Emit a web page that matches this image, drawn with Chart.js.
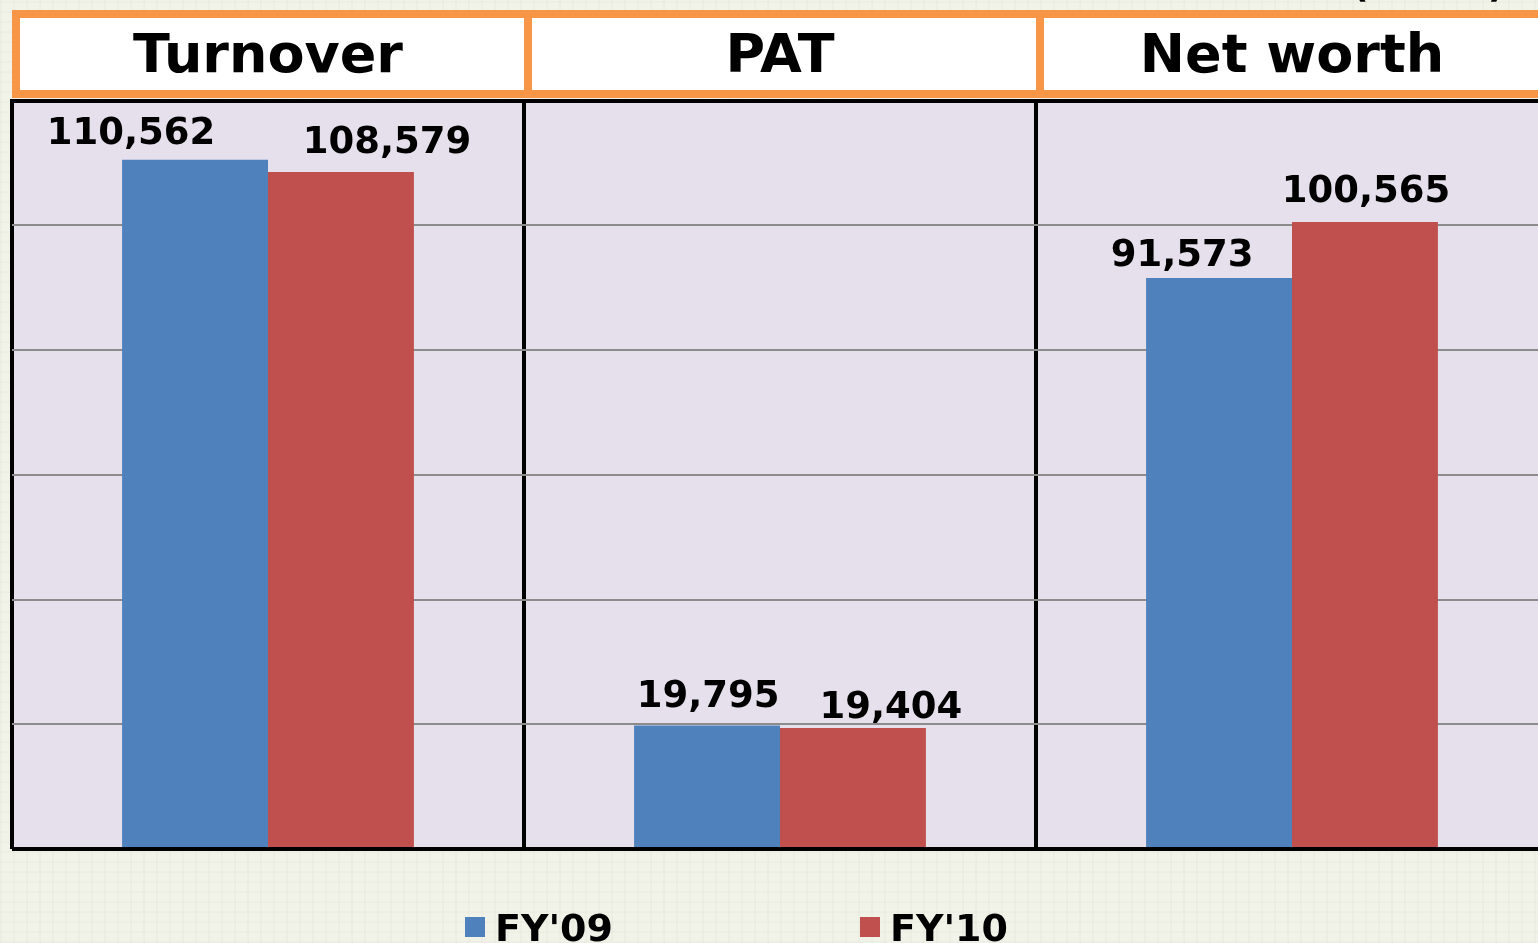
<!DOCTYPE html>
<html>
<head>
<meta charset="utf-8">
<script src="https://cdn.jsdelivr.net/npm/chart.js@4.4.1/dist/chart.umd.min.js"></script>
<style>
  html, body { margin: 0; padding: 0; overflow: hidden; }
  body {
    background-color: #f1f2e8;
    background-image:
      repeating-linear-gradient(90deg, rgba(205,210,190,0.12) 0 2px, transparent 2px 13px),
      repeating-linear-gradient(0deg, rgba(205,210,190,0.10) 0 2px, transparent 2px 10px);
  }
  #wrap { width: 1538px; height: 943px; overflow: hidden; position: relative; }
  canvas { position: absolute; left: 0; top: 0; }
</style>
</head>
<body>
<div id="wrap"><canvas id="barChart" width="1560" height="943"></canvas></div>
<script>
// data
const categories = ['Turnover', 'PAT', 'Net worth'];
const fy09 = [110562, 19795, 91573];
const fy10 = [108579, 19404, 100565];
const seriesNames = ["FY'09", "FY'10"];
const unitText = '(Rs. Cr)';
const yMax = 120000;
const yStep = 20000;

const BLUE = '#4f81bd';
const RED = '#c0504d';
const ORANGE = '#f79646';
const FONT = '"DejaVu Sans", Verdana, sans-serif';

// plot fill + orange header boxes, drawn before the scales
const headerBoxes = {
    id: 'headerBoxes',
    beforeDraw(chart) {
        const ctx = chart.ctx;
        const area = chart.chartArea;
        const x = chart.scales.x;
        ctx.save();
        ctx.fillStyle = '#e5e0ec';
        ctx.fillRect(area.left, area.top, area.right - area.left, area.bottom - area.top);
        const w = (x.right - x.left) / categories.length;
        for (let i = 0; i < categories.length; i++) {
            const left = x.getPixelForValue(i) - w / 2;
            ctx.fillStyle = '#ffffff';
            ctx.fillRect(left, 10, w + 8, 88);
            ctx.strokeStyle = ORANGE;
            ctx.lineWidth = 8;
            ctx.strokeRect(left + 4, 14, w, 80);
        }
        ctx.restore();
    }
};

// value labels above the bars
const valueLabels = {
    id: 'valueLabels',
    afterDatasetsDraw(chart, args, opts) {
        const ctx = chart.ctx;
        ctx.save();
        ctx.font = 'bold 37px ' + FONT;
        ctx.fillStyle = '#000';
        ctx.textAlign = 'center';
        ctx.textBaseline = 'alphabetic';
        chart.data.datasets.forEach((ds, d) => {
            chart.getDatasetMeta(d).data.forEach((bar, i) => {
                const shift = opts.shift[d][i];
                ctx.fillText(ds.data[i].toLocaleString('en-US'), bar.x + shift[0], bar.y - shift[1]);
            });
        });
        ctx.restore();
    }
};

// legend at the bottom and the unit note at the top
const bottomLegend = {
    id: 'bottomLegend',
    afterDraw(chart, args, opts) {
        const ctx = chart.ctx;
        ctx.save();
        ctx.font = 'bold 38px ' + FONT;
        ctx.textBaseline = 'alphabetic';
        ctx.textAlign = 'left';
        chart.data.datasets.forEach((ds, d) => {
            const x = opts.startX + d * opts.step;
            ctx.fillStyle = ds.backgroundColor;
            ctx.fillRect(x, 917, 20, 20);
            ctx.fillStyle = '#000';
            ctx.fillText(ds.label, x + 30, 941);
        });
        ctx.font = 'bold 36px ' + FONT;
        ctx.fillText(unitText, 1352, -3);
        ctx.restore();
    }
};

const ctx = document.getElementById('barChart').getContext('2d');

const barChart = new Chart(ctx, {
    type: 'bar',
    data: {
        labels: categories,
        datasets: [
            { label: seriesNames[0], data: fy09, backgroundColor: BLUE, borderWidth: 0 },
            { label: seriesNames[1], data: fy10, backgroundColor: RED, borderWidth: 0 }
        ]
    },
    options: {
        responsive: false,
        animation: false,
        categoryPercentage: 0.57,
        barPercentage: 1,
        layout: { padding: { left: 12, right: 12, top: 16, bottom: 94 } },
        plugins: {
            legend: { display: false },
            tooltip: { enabled: false },
            valueLabels: {
                shift: [
                    [[-64, 16], [1, 19], [-37, 12]],
                    [[46, 19], [38, 10], [1, 20]]
                ]
            },
            bottomLegend: { startX: 465, step: 395 }
        },
        scales: {
            x: {
                position: 'top',
                grid: { offset: true, color: '#000', lineWidth: 4, drawTicks: false },
                border: { display: true, color: '#000', width: 4 },
                ticks: {
                    color: '#000',
                    padding: 10,
                    maxRotation: 0,
                    autoSkip: false,
                    font: { family: FONT, size: 54, weight: 'bold' }
                }
            },
            y: {
                min: 0,
                max: yMax,
                ticks: { display: false, stepSize: yStep },
                border: { display: false },
                grid: {
                    drawTicks: false,
                    color: (c) => (c.tick.value === 0 || c.tick.value === yMax) ? '#000' : '#8c8c8c',
                    lineWidth: (c) => (c.tick.value === 0 || c.tick.value === yMax) ? 4 : 2
                }
            }
        }
    },
    plugins: [headerBoxes, valueLabels, bottomLegend]
});
</script>
</body>
</html>
